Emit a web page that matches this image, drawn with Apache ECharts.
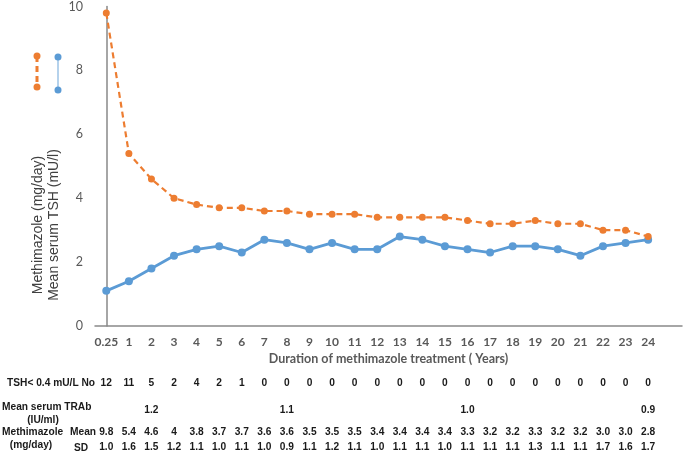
<!DOCTYPE html>
<html>
<head>
<meta charset="utf-8">
<script src="https://cdn.jsdelivr.net/npm/echarts@6/dist/echarts.min.js"></script>
<style>
html,body{margin:0;padding:0;background:#fff;}
#chart{width:685px;height:454px;}
</style>
</head>
<body>
<div id="chart"></div>
<script>
const categories = ['0.25','1','2','3','4','5','6','7','8','9','10','11','12','13','14','15','16','17','18','19','20','21','22','23','24'];
const methimazoleMean = [9.8,5.4,4.6,4.0,3.8,3.7,3.7,3.6,3.6,3.5,3.5,3.5,3.4,3.4,3.4,3.4,3.3,3.2,3.2,3.3,3.2,3.2,3.0,3.0,2.8];
const methimazoleMeanText = ['9.8','5.4','4.6','4','3.8','3.7','3.7','3.6','3.6','3.5','3.5','3.5','3.4','3.4','3.4','3.4','3.3','3.2','3.2','3.3','3.2','3.2','3.0','3.0','2.8'];
const methimazoleSD = [1.0,1.6,1.5,1.2,1.1,1.0,1.1,1.0,0.9,1.1,1.2,1.1,1.0,1.1,1.1,1.0,1.1,1.1,1.1,1.3,1.1,1.1,1.7,1.6,1.7];
const tshMean = [1.1,1.4,1.8,2.2,2.4,2.5,2.3,2.7,2.6,2.4,2.6,2.4,2.4,2.8,2.7,2.5,2.4,2.3,2.5,2.5,2.4,2.2,2.5,2.6,2.7];
const tshLowCount = [12,11,5,2,4,2,1,0,0,0,0,0,0,0,0,0,0,0,0,0,0,0,0,0,0];
const trabMean = [null,null,'1.2',null,null,null,null,null,'1.1',null,null,null,null,null,null,null,'1.0',null,null,null,null,null,null,null,'0.9'];
const yTicks = {min:0, max:10, interval:2};

const ORANGE = '#ED7D31', BLUE = '#5B9BD5';
const XMIN = -0.5, XMAX = 25.5;
const TFONT = 'Liberation Sans, Arial';
const TSIZE = 10.2;

function idxOf(v){ const r = Math.round(v); return Math.abs(v - r) < 1e-6 ? r : -1; }

function rowAxis(values, offset, fmt){
  return {
    type:'value', gridIndex:0, position:'bottom', offset: offset,
    min:XMIN, max:XMAX, interval:0.5,
    axisLine:{show:false}, axisTick:{show:false}, splitLine:{show:false},
    axisLabel:{
      margin:0, verticalAlign:'middle', color:'#1a1a1a', fontFamily:TFONT, fontWeight:'bold', fontSize:TSIZE,
      showMinLabel:true, showMaxLabel:true,
      formatter: v => { const i = idxOf(v); if (i < 0 || i >= values.length || values[i] == null) return ''; return fmt ? fmt(values[i]) : String(values[i]); }
    }
  };
}

const chart = echarts.init(document.getElementById('chart'));
const tableFont = {fontFamily:TFONT, fontWeight:'bold', fontSize:TSIZE, fill:'#1a1a1a'};
function tText(text, x, y, align){
  return {type:'text', x:x, y:y, style:Object.assign({text:text, align:align||'left', verticalAlign:'middle'}, tableFont)};
}

chart.setOption({
  animation:false,
  grid:{left:95, right:2, top:6, bottom:128, containLabel:false},
  xAxis:[
    {
      type:'value', min:XMIN, max:XMAX, interval:0.5,
      axisLine:{show:true, lineStyle:{color:'#898989', width:1.5}},
      axisTick:{show:false}, splitLine:{show:false},
      axisLabel:{
        margin:10, color:'#595959', fontFamily:'Lato, Open Sans', fontWeight:'bold', fontSize:12,
        showMinLabel:true, showMaxLabel:true,
        formatter: v => { const i = idxOf(v); return (i >= 0 && i < categories.length) ? categories[i] : ''; }
      },
      name:'Duration of methimazole treatment ( Years)', nameLocation:'middle', nameGap:22,
      nameTextStyle:{color:'#595959', fontFamily:'Lato, Open Sans', fontWeight:'bold', fontSize:12.5}
    },
    rowAxis(tshLowCount, 57),
    rowAxis(trabMean, 84),
    rowAxis(methimazoleMeanText, 106),
    rowAxis(methimazoleSD, 121, v => v.toFixed(1))
  ],
  yAxis:{
    type:'value', min:yTicks.min, max:yTicks.max, interval:yTicks.interval,
    axisLine:{show:true, lineStyle:{color:'#898989', width:1.5}},
    axisTick:{show:false}, splitLine:{show:false},
    axisLabel:{margin:12, color:'#595959', fontFamily:'Lato, Open Sans', fontSize:12.5}
  },
  series:[
    {
      name:'Methimazole (mg/day)', type:'line', xAxisIndex:0,
      data: methimazoleMean.map((v,i)=>[i,v]),
      symbol:'circle', symbolSize:7,
      lineStyle:{color:ORANGE, width:2.2, type:[6,4]},
      itemStyle:{color:ORANGE}, z:3
    },
    {
      name:'Mean serum TSH (mU/l)', type:'line', xAxisIndex:0,
      data: tshMean.map((v,i)=>[i,v]),
      symbol:'circle', symbolSize:8,
      lineStyle:{color:BLUE, width:2.8},
      itemStyle:{color:BLUE}, z:2
    }
  ],
  graphic:[
    {type:'line', shape:{x1:37,y1:56,x2:37,y2:87}, style:{stroke:ORANGE, lineWidth:3, lineDash:[6,4]}},
    {type:'circle', shape:{cx:37,cy:56,r:3.5}, style:{fill:ORANGE}},
    {type:'circle', shape:{cx:37,cy:87,r:3.5}, style:{fill:ORANGE}},
    {type:'line', shape:{x1:58,y1:57,x2:58,y2:90}, style:{stroke:'#9DC3E6', lineWidth:1.5}},
    {type:'circle', shape:{cx:58,cy:57,r:3.5}, style:{fill:BLUE}},
    {type:'circle', shape:{cx:58,cy:90,r:3.5}, style:{fill:BLUE}},
    {type:'text', x:46, y:225, rotation:Math.PI/2,
      style:{text:'Methimazole (mg/day)\nMean serum TSH (mU/l)', align:'center', verticalAlign:'middle',
        fontFamily:TFONT, fontSize:14, lineHeight:16, fill:'#404040'}},
    tText('TSH< 0.4 mU/L No', 7, 383),
    tText('Mean serum TRAb', 2, 407),
    tText('(IU/ml)', 43, 420, 'center'),
    tText('Methimazole', 2, 432),
    tText('Mean', 70, 432),
    tText('(mg/day)', 31, 445, 'center'),
    tText('SD', 74, 448)
  ]
});
</script>
</body>
</html>
